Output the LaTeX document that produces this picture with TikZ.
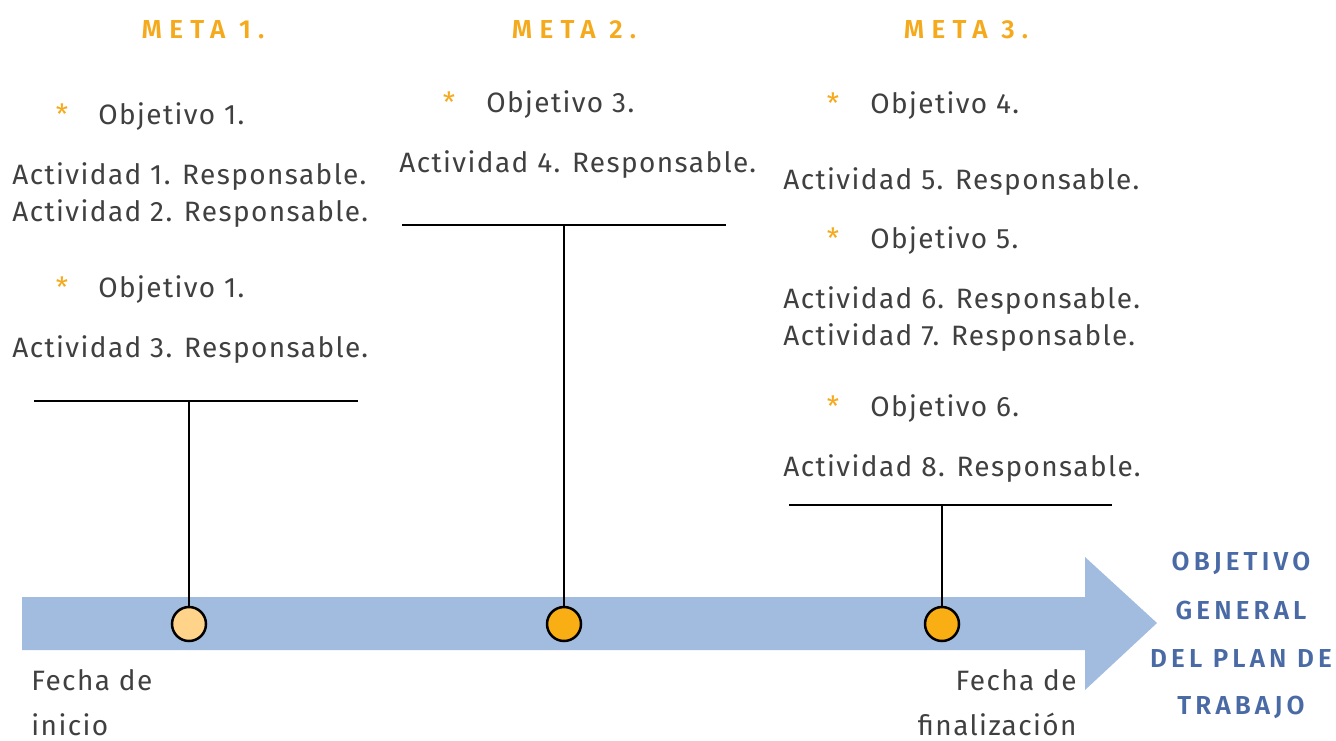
\documentclass[tikz,border=0pt]{standalone}
\usepackage{fontspec}
\setmainfont{Fira Sans}
\newfontfamily\bodyfont[LetterSpace=5]{Fira Sans}
\newfontfamily\metafont[LetterSpace=28]{Fira Sans SemiBold}
\newfontfamily\goalfont[LetterSpace=16]{Fira Sans SemiBold}
\usepackage{xcolor}
\definecolor{arrowblue}{RGB}{162, 188, 224}
\definecolor{metaorange}{RGB}{245, 170, 30}
\definecolor{darkorange}{RGB}{249, 174, 20}
\definecolor{lightorange}{RGB}{255, 211, 138}
\definecolor{textgray}{RGB}{64, 64, 64}
\definecolor{goalblue}{RGB}{74, 106, 165}

\tikzset{
  txt/.style={inner sep=0pt, anchor=base west, text=textgray, font=\fontsize{14}{16}\bodyfont},
  star/.style={inner sep=0pt, anchor=base, text=metaorange, font=\fontsize{14}{16}\selectfont},
  meta/.style={inner sep=0pt, anchor=base, text=metaorange, font=\fontsize{13}{16}\metafont},
  goal/.style={inner sep=0pt, anchor=base, text=goalblue, font=\fontsize{13}{16}\goalfont},
  dot/.style={circle, draw=black, line width=1.25pt, minimum size=17pt, inner sep=0pt},
}

\begin{document}
\begin{tikzpicture}[x=0.5pt, y=-0.5pt]
    \useasboundingbox (0,0) rectangle (1336,740);

    % Timeline arrow
    \fill[arrowblue] (22,597) -- (1085,597) -- (1085,557) -- (1157,623)
      -- (1085,690) -- (1085,650) -- (22,650) -- cycle;

    % Goals
    \node[meta] (meta1) at (203,38) {META 1.};
    \node[meta] (meta2) at (574,38) {META 2.};
    \node[meta] (meta3) at (966,38) {META 3.};

    % Goal 1
    \node[star] (s1) at (62,124) {*};
    \node[txt] (obj1) at (98,124) {Objetivo 1.};
    \node[txt] (act1) at (12,184) {Actividad 1. Responsable.};
    \node[txt] (act2) at (12,221) {Actividad 2. Responsable.};
    \node[star] (s2) at (62,297) {*};
    \node[txt] (obj2) at (98,297) {Objetivo 1.};
    \node[txt] (act3) at (12,357) {Actividad 3. Responsable.};

    % Goal 2
    \node[star] (s3) at (449,112) {*};
    \node[txt] (obj3) at (486,112) {Objetivo 3.};
    \node[txt] (act4) at (399,172) {Actividad 4. Responsable.};

    % Goal 3
    \node[star] (s4) at (833,113) {*};
    \node[txt] (obj4) at (870,113) {Objetivo 4.};
    \node[txt] (act5) at (783,189) {Actividad 5. Responsable.};
    \node[star] (s5) at (833,248) {*};
    \node[txt] (obj5) at (870,248) {Objetivo 5.};
    \node[txt] (act6) at (783,308) {Actividad 6. Responsable.};
    \node[txt] (act7) at (783,345) {Actividad 7. Responsable.};
    \node[star] (s6) at (833,416) {*};
    \node[txt] (obj6) at (870,416) {Objetivo 6.};
    \node[txt] (act8) at (783,476) {Actividad 8. Responsable.};

    % Milestones on the timeline
    \foreach \x/\c/\n in {189/lightorange/1, 564/darkorange/2, 942/darkorange/3} {
        \node[dot, fill=\c] (c\n) at (\x,624) {};
      }

    % Brackets
    \foreach \l/\r/\y/\n in {34/358/401/1, 402/726/225/2, 789/1112/505/3} {
        \coordinate (bl\n) at (\l,\y);
        \coordinate (br\n) at (\r,\y);
        \draw[line width=1.25pt] (bl\n) -- (br\n);
        \draw[line width=1.25pt] (c\n |- bl\n) -- (c\n.north);
      }

    % Dates
    \node[txt] (start1) at (31,690) {Fecha de};
    \node[txt] (start2) at (31,735) {inicio};
    \node[txt, anchor=base east] (end1) at (1077,690) {Fecha de};
    \node[txt, anchor=base east] (end2) at (1077,735) {finalización};

    % General objective
    \node[goal] (gen1) at (1241,570) {OBJETIVO};
    \node[goal] (gen2) at (1241,619) {GENERAL};
    \node[goal] (gen3) at (1241,667) {DEL PLAN DE};
    \node[goal] (gen4) at (1241,714) {TRABAJO};
  \end{tikzpicture}
\end{document}
